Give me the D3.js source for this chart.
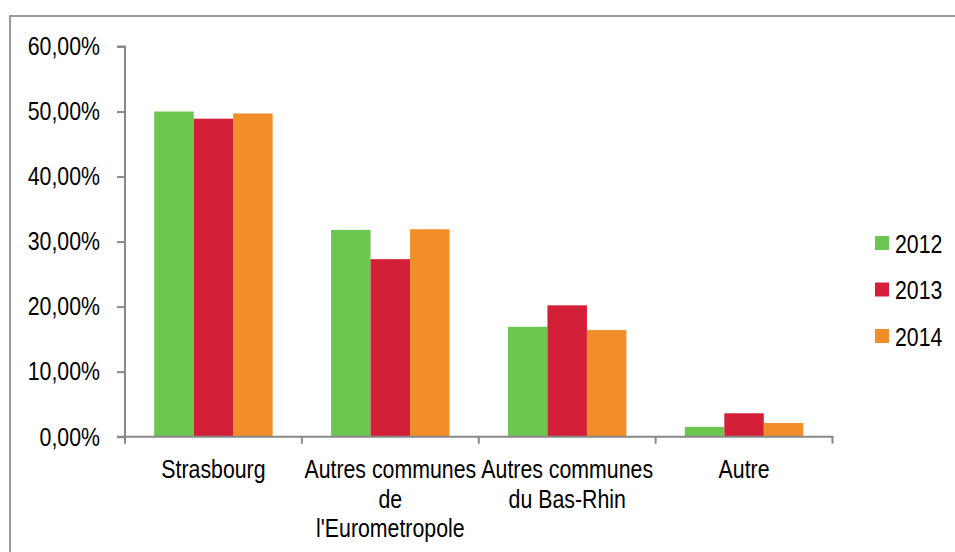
<!DOCTYPE html>
<html>
<head>
<meta charset="utf-8">
<script src="https://cdn.jsdelivr.net/npm/d3@7"></script>
<style>
  html, body { margin: 0; padding: 0; background: #fff; }
  svg { display: block; }
  text { font-family: "Liberation Sans", Arial, sans-serif; fill: #000; }
</style>
</head>
<body>
<script>
const categories = [
  ["Strasbourg"],
  ["Autres communes", "de", "l'Eurometropole"],
  ["Autres communes", "du Bas-Rhin"],
  ["Autre"]
];
const categoryKeys = ["Strasbourg", "Autres communes de l'Eurometropole", "Autres communes du Bas-Rhin", "Autre"];
const seriesNames = ["2012", "2013", "2014"];
const values2012 = [0.500, 0.318, 0.169, 0.015];
const values2013 = [0.489, 0.273, 0.202, 0.036];
const values2014 = [0.497, 0.319, 0.164, 0.021];
const seriesColors = ["#6DC64F", "#D31F37", "#F28E29"];
const yTicks = [0, 0.1, 0.2, 0.3, 0.4, 0.5, 0.6];

const seriesValues = [values2012, values2013, values2014];

const W = 955, H = 552;
const NARROW = 0.82; // horizontal condensing to mimic a narrow typeface
const svg = d3.select("body").append("svg").attr("width", W).attr("height", H);

// outer border
svg.append("rect").attr("x", 10).attr("y", 16).attr("width", 980).attr("height", 600)
  .attr("fill", "none").attr("stroke", "#9a9a9a").attr("stroke-width", 2);

const x0 = d3.scaleBand().domain(categoryKeys).range([125, 832.5]).paddingInner(0).paddingOuter(0);
const x1 = d3.scaleBand().domain(seriesNames).range([0, x0.bandwidth()]).paddingInner(0).paddingOuter(0.74);
const y = d3.scaleLinear().domain([0, 0.6]).range([436.7, 46.5]);

const axisColor = "#888888";

// bars
const groups = svg.append("g").selectAll("g").data(categoryKeys).join("g")
  .attr("transform", d => `translate(${x0(d)},0)`);
groups.selectAll("rect").data((d, i) => seriesNames.map((s, j) => ({ s, v: seriesValues[j][i], c: seriesColors[j] })))
  .join("rect")
  .attr("x", d => x1(d.s))
  .attr("width", x1.bandwidth())
  .attr("y", d => y(d.v))
  .attr("height", d => y(0) - y(d.v))
  .attr("fill", d => d.c);

// y axis
const yAxis = d3.axisLeft(y).tickValues(yTicks).tickSize(8).tickPadding(17)
  .tickFormat(d => d3.format(".2f")(d * 100).replace(".", ",") + "%");
const gy = svg.append("g").attr("transform", "translate(125,0)").call(yAxis);
gy.select(".domain").attr("stroke", axisColor).attr("stroke-width", 2).attr("d", `M-8,${y(0.6)}H0V${y(0)}`);
gy.selectAll(".tick line").attr("stroke", axisColor).attr("stroke-width", 2);
gy.selectAll(".tick text").attr("font-size", 26).style("font-family", null)
  .attr("x", 0).attr("transform", `translate(-25,0) scale(${NARROW},1)`);

// x axis
const xLine = svg.append("g");
xLine.append("line").attr("x1", 117).attr("x2", 833.5).attr("y1", y(0)).attr("y2", y(0))
  .attr("stroke", axisColor).attr("stroke-width", 2);
const boundaries = categoryKeys.map(k => x0(k)).concat([x0(categoryKeys[categoryKeys.length - 1]) + x0.bandwidth()]);
xLine.selectAll("line.t").data(boundaries).join("line").attr("class", "t")
  .attr("x1", d => d).attr("x2", d => d).attr("y1", y(0)).attr("y2", y(0) + 7)
  .attr("stroke", axisColor).attr("stroke-width", 2);

// category labels
const labels = svg.append("g").selectAll("text").data(categoryKeys).join("text")
  .attr("x", 0)
  .attr("y", 0)
  .attr("transform", d => `translate(${x0(d) + x0.bandwidth() / 2},478) scale(${NARROW},1)`)
  .attr("text-anchor", "middle")
  .attr("font-size", 26);
labels.each(function(d, i) {
  d3.select(this).selectAll("tspan").data(categories[i]).join("tspan")
    .attr("x", 0)
    .attr("dy", (t, j) => j === 0 ? 0 : 29.7)
    .text(t => t);
});

// legend
const legend = svg.append("g").selectAll("g").data(seriesNames).join("g")
  .attr("transform", (d, i) => `translate(875,${243 + i * 46.5})`);
legend.append("rect").attr("x", 0).attr("y", -7).attr("width", 14).attr("height", 14)
  .attr("fill", (d, i) => seriesColors[i]);
legend.append("text").attr("x", 0).attr("y", 0)
  .attr("transform", `translate(20,9.5) scale(${NARROW},1)`)
  .attr("font-size", 26).text(d => d);
</script>
</body>
</html>
